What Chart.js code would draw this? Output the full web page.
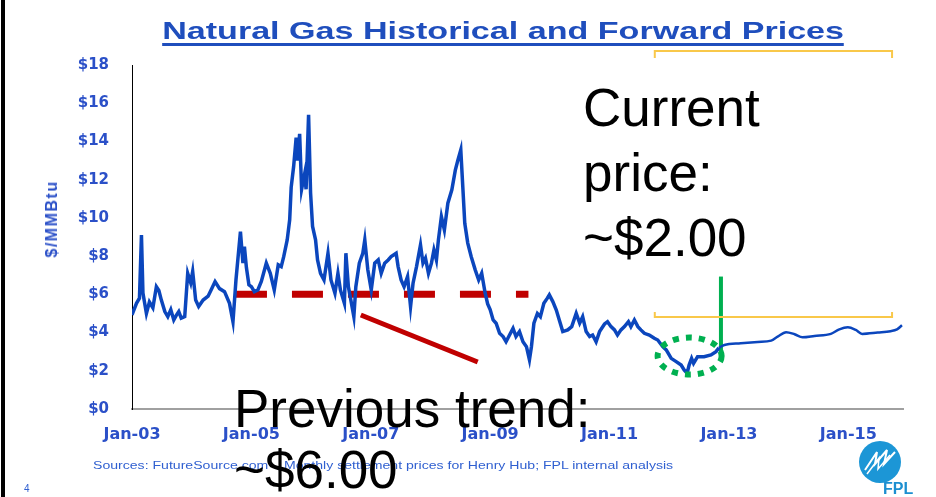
<!DOCTYPE html>
<html>
<head>
<meta charset="utf-8">
<script src="https://cdn.jsdelivr.net/npm/chart.js@4.4.0/dist/chart.umd.min.js"></script>
<style>
    html, body { margin: 0; padding: 0; background: #fff; }
    body { width: 936px; height: 497px; position: relative; overflow: hidden; font-family: "Liberation Sans", Arial, sans-serif; }
    #chartBox { position: absolute; left: 0; top: 0; width: 936px; height: 497px; }
    .frame { position: absolute; left: 1px; top: 0; width: 4px; height: 497px; background: #000; }
    .title { position: absolute; left: 0; width: 1006px; top: 18px; text-align: center; }
    .title span { display: inline-block; font-weight: bold; font-size: 24px; color: #1f4ebd;
                  border-bottom: 3px solid #1f4ebd; line-height: 25px; transform: scaleX(1.42); transform-origin: center; }
    .ytitle { position: absolute; left: 52px; top: 219px; transform: translate(-50%, -50%) rotate(-90deg);
              font-weight: bold; font-size: 16px; color: #2b50c8; white-space: nowrap; letter-spacing: 1.5px; }
    .sources { position: absolute; left: 93px; top: 459px; font-size: 11px; color: #2f5fd0; white-space: nowrap;
               transform: scaleX(1.28); transform-origin: left; }
    .pagenum { position: absolute; left: 24px; top: 483px; font-size: 10px; color: #2f5fd0; }
    .big { position: absolute; font-size: 53px; color: #000; white-space: nowrap; }
    .logo { position: absolute; left: 857px; top: 440px; }
</style>
</head>
<body>
<div id="chartBox"><canvas id="gasChart"></canvas></div>
<div class="frame"></div>
<div class="title"><span>Natural Gas Historical and Forward Prices</span></div>
<div class="ytitle">$/MMBtu</div>
<div class="sources">Sources: FutureSource.com – Monthly settlement prices for Henry Hub; FPL internal analysis</div>
<div class="pagenum">4</div>
<svg class="logo" width="70" height="57" viewBox="0 0 70 57">
    <circle cx="23" cy="22" r="21" fill="#1c96d6"/>
    <path d="M8 30 L20 12 L18 24 L30 10 L27 24 L38 12" stroke="#fff" stroke-width="2" fill="none"/>
    <path d="M10 34 L22 18 L21 29 L33 15" stroke="#fff" stroke-width="1.5" fill="none"/>
    <text x="26" y="54" font-family="Liberation Sans, Arial" font-weight="bold" font-size="16" fill="#1c8fd0">FPL</text>
</svg>
<div class="big" style="left:583px; top:75px; line-height:65px;">Current<br>price:<br>~$2.00</div>
<div class="big" style="left:234px; top:378px; line-height:61px;">Previous trend:<br>~$6.00</div>

<script>
// month index: 0 = Jan-03
const histMonths = [0, 0.9, 1.5, 1.9, 2.2, 2.9, 3.5, 4.2, 4.9, 5.4, 5.9, 6.6, 7.2, 7.8, 8.4, 8.9, 9.4, 9.9, 10.6,
    11.2, 11.8, 12.2, 12.8, 13.4, 14.3, 15.3, 15.9, 16.7, 17.6, 18.6, 19.6, 20.3, 20.9, 21.8, 22.3, 22.6, 23.0, 23.5,
    24, 24.6, 25.3, 26, 27, 27.8, 28.6, 29.4, 30, 30.5, 31.2, 31.7, 32, 32.5, 33, 33.3, 33.7, 34.1, 34.7, 35, 35.5,
    35.9, 36.3, 36.9, 37.3, 37.9, 38.6, 39.4, 40, 40.8, 41.4, 41.9, 42.7, 43, 43.5, 44, 44.6, 45, 45.7, 46.4, 46.8,
    47.4, 48.1, 48.8, 49.5, 50.1, 50.8, 51.5, 52.1, 53.1, 53.5, 54.1, 54.7, 55.4, 56, 56.5, 57.2, 58, 58.5, 59, 59.6,
    60.2, 60.7, 61.2, 61.6, 62.2, 62.8, 63.5, 64.3, 65, 65.5, 66.1, 66.5, 66.9, 67.5, 68.2, 69, 69.7, 70.3, 71, 71.5,
    72, 72.6, 73.2, 73.9, 74.6, 75.2, 75.9, 76.6, 77.2, 77.9, 78.6, 79.3, 79.9, 80.3, 80.8, 81.5, 82.1, 82.8, 83.5,
    83.9, 84.6, 85.3, 85.9, 86.6, 87.6, 88.4, 89.3, 90, 90.6, 91.3, 92, 92.6, 93.3, 94, 95, 95.6, 96.3, 97, 97.6, 98.3,
    99, 99.8, 100.3, 101, 101.7, 102.3, 103, 104, 105, 105.7, 106.7, 107.4, 108.4, 109.4, 110.4, 111, 111.6, 112,
    112.5, 112.9, 113.7, 115, 116.4, 117.4, 118];
const histPrices = [4.92, 5.53, 5.8, 9.1, 6.07, 5.0, 5.6, 5.3, 6.4, 6.2, 5.7, 5.1, 4.83, 5.2, 4.66, 4.9, 5.1, 4.75, 4.83,
    7.1, 6.6, 7.2, 5.7, 5.36, 5.7, 5.9, 6.23, 6.67, 6.3, 6.14, 5.53, 4.57, 6.75, 9.28, 7.63, 8.5, 7.4, 6.5,
    6.4, 6.14, 6.23, 6.67, 7.63, 7.1, 6.23, 7.54, 7.45, 7.97, 8.85, 9.9, 11.6, 12.7, 14.2, 13.0, 14.4, 11.5, 12.3, 11.5, 15.4,
    11.3, 9.55, 8.85, 7.8, 7.1, 6.75, 8.15, 6.75, 6.06, 7.1, 6.23, 5.53, 8.15, 6.4, 5.7, 4.83, 6.4, 7.63, 8.15, 8.85,
    7.3, 6.23, 7.63, 7.8, 7.1, 7.63, 7.8, 7.97, 8.15, 7.45, 6.75, 6.4, 6.93, 5.36, 6.58, 7.45, 8.59, 7.63, 7.89, 7.1,
    7.63, 8.32, 7.8, 8.85, 10.07, 9.37, 10.77, 11.47, 12.5, 13.0, 13.56, 11.64, 9.72, 8.68, 7.97, 7.28, 6.75, 7.1, 6.06, 5.5,
    5.2, 4.66, 4.49, 3.96, 3.79, 3.52, 3.87, 4.22, 3.79, 4.05, 3.52, 3.26, 2.57, 3.26, 4.49, 5.0, 4.83, 5.53, 5.8,
    5.97, 5.62, 5.18, 4.66, 4.05, 4.14, 4.31, 5.0, 4.49, 4.83, 4.05, 3.79, 3.87, 3.52, 4.05, 4.45, 4.57, 4.31, 4.14, 3.87, 4.14,
    4.31, 4.57, 4.31, 4.66, 4.31, 4.14, 3.96, 3.87, 3.7, 3.61, 3.26, 3.09, 2.65, 2.48, 2.3, 2.04, 1.87, 2.3,
    2.65, 2.39, 2.74, 2.74, 2.83, 3.0, 3.2];

// forward curve
const fwdMonths = [118, 119.1, 122.4, 125.8, 128.5, 129.8, 131.5, 133.2, 134.8, 137.2, 140.5, 142.2, 143.9, 145.5,
    146.8, 149.9, 152.5, 153.8, 154.8];
const fwdPrices = [3.2, 3.35, 3.44, 3.51, 3.58, 3.79, 4.02, 3.91, 3.75, 3.82, 3.93, 4.17, 4.28, 4.14,
    3.93, 4.0, 4.07, 4.17, 4.38];

const tickMonths = [0, 24, 48, 72, 96, 120, 144];
const tickLabels = ['Jan-03', 'Jan-05', 'Jan-07', 'Jan-09', 'Jan-11', 'Jan-13', 'Jan-15'];

// annotation lines (month, price)
const trendMonths = [20.9, 79.7];
const trendPrices = [6, 6];
const arrowMonths = [46.0, 69.5];
const arrowPrices = [4.92, 2.46];
const nowMonths = [118.4, 118.4];
const nowPrices = [2.79, 6.93];

const toPoints = (xs, ys) => xs.map((x, i) => ({ x: x, y: ys[i] }));

// orange bracket + green dotted circle
const overlayPlugin = {
    id: 'overlay',
    afterDatasetsDraw(chart) {
        const { ctx, scales: { x, y } } = chart;
        ctx.save();
        // forward bracket
        ctx.strokeStyle = '#f9c84a';
        ctx.lineWidth = 2;
        const x0 = x.getPixelForValue(105.1), x1 = x.getPixelForValue(152.8);
        const yb = y.getPixelForValue(4.82);
        ctx.beginPath();
        ctx.moveTo(x0, yb - 5); ctx.lineTo(x0, yb); ctx.lineTo(x1, yb); ctx.lineTo(x1, yb - 5);
        ctx.stroke();
        const yt = 51;
        ctx.beginPath();
        ctx.moveTo(x0, yt + 7); ctx.lineTo(x0, yt); ctx.lineTo(x1, yt); ctx.lineTo(x1, yt + 7);
        ctx.stroke();
        // dotted ellipse round the low
        const cx = x.getPixelForValue(112.1), cy = y.getPixelForValue(2.77);
        ctx.strokeStyle = '#00b050';
        ctx.lineWidth = 6;
        ctx.setLineDash([6, 7]);
        ctx.beginPath();
        ctx.ellipse(cx, cy, 32, 18.5, 0, 0, Math.PI * 2);
        ctx.stroke();
        ctx.restore();
    }
};

new Chart(document.getElementById('gasChart'), {
    type: 'line',
    data: {
        datasets: [
            {
                label: 'Historical',
                data: toPoints(histMonths, histPrices),
                borderColor: '#0b46bd',
                borderWidth: 3.5,
                pointRadius: 0,
                tension: 0
            },
            {
                label: 'Forward',
                data: toPoints(fwdMonths, fwdPrices),
                borderColor: '#0b46bd',
                borderWidth: 2.5,
                pointRadius: 0,
                cubicInterpolationMode: 'monotone'
            },
            {
                label: 'Previous trend',
                data: toPoints(trendMonths, trendPrices),
                borderColor: '#c00000',
                borderWidth: 7,
                borderDash: [31, 25],
                borderCapStyle: 'butt',
                pointRadius: 0
            },
            {
                label: 'Drop',
                data: toPoints(arrowMonths, arrowPrices),
                borderColor: '#c00000',
                borderWidth: 5,
                pointRadius: 0
            },
            {
                label: 'Current',
                data: toPoints(nowMonths, nowPrices),
                borderColor: '#00b050',
                borderWidth: 4,
                pointRadius: 0
            }
        ]
    },
    options: {
        responsive: true,
        maintainAspectRatio: false,
        animation: false,
        layout: { padding: { left: 0, top: 65, right: 33, bottom: 48 } },
        plugins: { legend: { display: false }, tooltip: { enabled: false } },
        scales: {
            x: {
                type: 'linear',
                min: 0,
                max: 155,
                grid: { display: false },
                border: { display: true, color: '#a0a0a0', width: 2 },
                afterBuildTicks: (scale) => { scale.ticks = tickMonths.map(v => ({ value: v })); },
                afterFit: (scale) => { scale.height = 40; },
                ticks: {
                    padding: 8,
                    maxRotation: 0,
                    autoSkip: false,
                    color: '#2b50c8',
                    font: { family: 'DejaVu Sans', weight: 'bold', size: 16 },
                    callback: (v) => tickLabels[tickMonths.indexOf(v)]
                }
            },
            y: {
                min: 0,
                max: 18,
                grid: { display: false },
                border: { display: true, color: '#000', width: 1 },
                afterFit: (scale) => { scale.width = 132; },
                ticks: {
                    stepSize: 2,
                    padding: 15,
                    color: '#2b50c8',
                    font: { family: 'DejaVu Sans', weight: 'bold', size: 15 },
                    callback: (v) => '$' + v
                }
            }
        }
    },
    plugins: [overlayPlugin]
});
</script>
</body>
</html>
